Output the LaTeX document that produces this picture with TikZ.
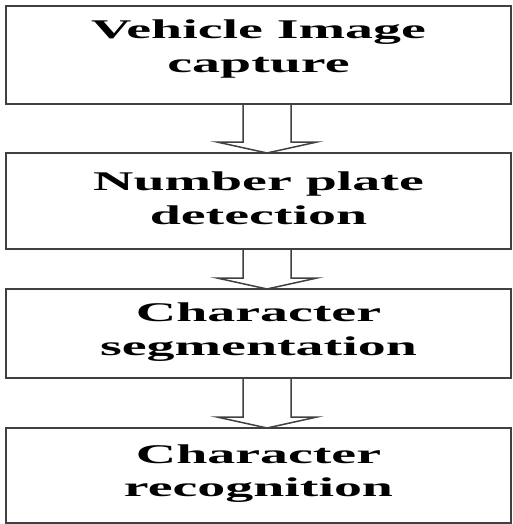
\documentclass[tikz,border=0pt]{standalone}
\usepackage{fontspec}
\setmainfont{Liberation Serif}
\usetikzlibrary{calc}
\newcommand\boxtext[3]{\raisebox{#1}[\height][\depth]{\scalebox{2.07}[1]{\begin{tabular}{@{}c@{}}#2\\#3\end{tabular}}}}
\newcommand\flowarrow[2]{%
  \draw[blockarrow]
    ($(#1.south)+(-15.5pt,0pt)$) -- ($(#2.north)+(-15.5pt,11pt)$)
    -- ($(#2.north)+(-41.5pt,11pt)$) -- ($(#2.north)+(8.5pt,0pt)$)
    -- ($(#2.north)+(58.5pt,11pt)$) -- ($(#2.north)+(32.5pt,11pt)$)
    -- ($(#1.south)+(32.5pt,0pt)$);}
\begin{document}
\begin{tikzpicture}[x=1pt,y=-1pt,
  stagebox/.style={draw=black!75,line width=1.6pt,fill=white,inner sep=0pt,outer sep=0pt,
    minimum width=505pt,font=\fontsize{27}{33.5}\selectfont\bfseries},
  blockarrow/.style={draw=black!75,line width=1.5pt,line join=miter}]
\useasboundingbox[fill=white] (0,0) rectangle (512,524);
\node[stagebox,minimum height=98pt] (b1) at (258.5,55) {\boxtext{6pt}{Vehicle Image}{capture}};
\node[stagebox,minimum height=96pt] (b2) at (258.5,201) {\boxtext{0pt}{Number plate}{detection}};
\node[stagebox,minimum height=89pt] (b3) at (258.5,333.5) {\boxtext{1.5pt}{Character}{segmentation}};
\node[stagebox,minimum height=95pt] (b4) at (258.5,475.5) {\boxtext{2pt}{Character}{recognition}};
\flowarrow{b1}{b2}
\flowarrow{b2}{b3}
\flowarrow{b3}{b4}
\end{tikzpicture}
\end{document}
